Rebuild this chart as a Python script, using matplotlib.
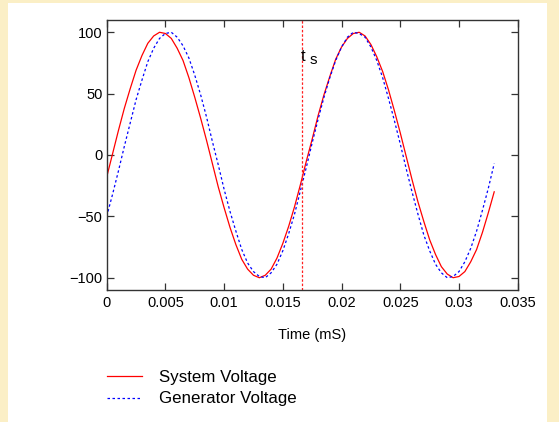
import numpy as np
import matplotlib
matplotlib.use("Agg")
import matplotlib.pyplot as plt
from matplotlib.patches import Rectangle

plt.rcParams["font.family"] = ["Liberation Sans", "DejaVu Sans"]

# time samples (s) and voltages
time = np.linspace(0, 0.033, 67)
system_v = [
    -18, 1, 20, 38, 54, 69, 81, 91, 97, 100, 99, 95, 87, 77, 63, 47, 30, 12,
    -7, -26, -43, -59, -73, -85, -93, -98, -100, -98, -93, -84, -72, -58, -42,
    -24, -5, 13, 32, 49, 64, 78, 88, 95, 99, 100, 97, 90, 80, 68, 53, 36, 18,
    -1, -20, -38, -54, -69, -81, -91, -97, -100, -99, -95, -87, -77, -63, -47,
    -30,
]
generator_v = [
    -50, -32, -13, 7, 26, 45, 61, 76, 87, 95, 99, 100, 96, 89, 79, 65, 49, 31,
    11, -8, -28, -46, -62, -77, -88, -95, -99, -100, -96, -89, -78, -64, -48,
    -29, -10, 10, 29, 47, 63, 77, 88, 96, 100, 99, 96, 88, 77, 63, 46, 28, 9,
    -11, -30, -48, -65, -78, -89, -96, -100, -99, -95, -87, -76, -62, -45, -27,
    -7,
]
t_sync = 0.01667

x_ticks = [0, 0.005, 0.01, 0.015, 0.02, 0.025, 0.03, 0.035]
x_labels = ["0", "0.005", "0.01", "0.015", "0.02", "0.025", "0.03", "0.035"]
y_ticks = [-100, -50, 0, 50, 100]

W, H = 559, 422
fig = plt.figure(figsize=(W / 100, H / 100), dpi=100, facecolor="#fbefc6")
fig.add_artist(Rectangle((8 / W, 0), (547 - 8) / W, (H - 3) / H,
                         transform=fig.transFigure, facecolor="white",
                         edgecolor="none", zorder=0))

ax = fig.add_axes([106.7 / W, 1 - 290 / H, 411 / W, 270 / H])
ax.set_facecolor("white")

ax.plot(time, system_v, color="#ff0000", lw=0.9, label="System Voltage")
ax.plot(time, generator_v, color="#0000ff", lw=0.9, ls=(0, (2, 2)),
        label="Generator Voltage")
ax.axvline(t_sync, color="#ff2020", lw=0.9, ls=(0, (2, 1.5)))
ax.text(0.01676, 76.5, "t", fontsize=12, ha="center", va="baseline")
ax.text(0.01731, 74.5, "s", fontsize=11, ha="left", va="baseline")

ax.set_xlim(0, 0.035)
ax.set_ylim(-110, 110)
ax.set_xticks(x_ticks)
ax.set_xticklabels(x_labels)
ax.set_yticks(y_ticks)
ax.tick_params(direction="in", top=True, right=True, length=5, width=0.9,
               color="#333333", labelsize=10.5, pad=4)
ax.tick_params(axis="y", pad=3)
for s in ax.spines.values():
    s.set_color("#333333")
    s.set_linewidth(1.0)
ax.set_xlabel("Time (mS)", fontsize=10.5, labelpad=13.5)

handles, labels = ax.get_legend_handles_labels()
fig.legend(handles, labels, loc="upper left",
           bbox_to_anchor=(106.7 / W, 1 - 370 / H), frameon=False,
           fontsize=12.2, handlelength=2.1, handletextpad=1.0,
           labelspacing=0.38, borderpad=0, borderaxespad=0)

fig.savefig("out.png", dpi=100, facecolor=fig.get_facecolor())
